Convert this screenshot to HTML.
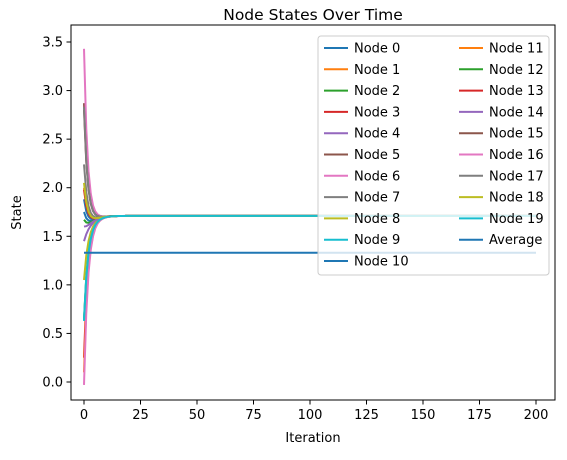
<!DOCTYPE html>
<html><head><meta charset="utf-8"><style>
body{margin:0;background:#fff;font-family:"Liberation Sans","DejaVu Sans",sans-serif}
svg text{font-family:"DejaVu Sans","Liberation Sans",sans-serif;fill:#000}
</style></head><body>
<svg id="c" width="567" height="455"></svg>
<script>
const nodeNames=["Node 0","Node 1","Node 2","Node 3","Node 4","Node 5","Node 6","Node 7","Node 8","Node 9","Node 10","Node 11","Node 12","Node 13","Node 14","Node 15","Node 16","Node 17","Node 18","Node 19"];
const initialStates=[1.88,2.0,0.65,0.25,1.45,2.87,3.43,2.24,1.05,0.63,1.75,0.1,1.67,1.98,1.6,2.8,-0.03,2.83,2.05,0.63];
const consensusValue=1.71;
const averageValue=1.33;
const iterations=200;
const xTicks=[0,25,50,75,100,125,150,175,200];
const yTicks=[0.0,0.5,1.0,1.5,2.0,2.5,3.0,3.5];
const colors=["#1f77b4","#ff7f0e","#2ca02c","#d62728","#9467bd","#8c564b","#e377c2","#7f7f7f","#bcbd22","#17becf"];
const NS="http://www.w3.org/2000/svg";
const svg=document.getElementById('c');
const L=71,R=555,T=25,B=400;
const X=v=>84+v*(452/200);
const Y=v=>382-v*(340/3.5);
function mk(t,a,p){const e=document.createElementNS(NS,t);for(const k in a)e.setAttribute(k,a[k]);(p||svg).appendChild(e);return e;}
function stateAt(x0,t){return consensusValue+(x0-consensusValue)*Math.pow(0.55,t)-0.07*t*Math.pow(0.65,t);}
const g=mk('g',{});


initialStates.forEach((x0,i)=>{
  let pts=[];for(let t=0;t<=iterations;t++)pts.push(X(t).toFixed(2)+','+Y(stateAt(x0,t)).toFixed(2));
  const p=mk('polyline',{points:pts.join(' '),fill:'none',stroke:colors[i%10],'stroke-width':2},g);
  
  
});
const av=mk('line',{x1:X(0),x2:X(iterations),y1:Y(averageValue),y2:Y(averageValue),stroke:colors[20%10],'stroke-width':2},g);


const fr=mk('rect',{x:L,y:T,width:R-L,height:B-T,fill:'none',stroke:'#000','stroke-width':1});


xTicks.forEach(v=>{mk('line',{x1:X(v),x2:X(v),y1:B,y2:B+4.5,stroke:'#000','stroke-width':1});
 const t=mk('text',{x:X(v),y:B+19,'font-size':13,'text-anchor':'middle'});t.textContent=v;
 
 });
yTicks.forEach(v=>{mk('line',{x1:L-4.5,x2:L,y1:Y(v),y2:Y(v),stroke:'#000','stroke-width':1});
 const t=mk('text',{x:L-8,y:Y(v)+4.5,'font-size':13,'text-anchor':'end'});t.textContent=v.toFixed(1);
 
 });
const ti=mk('text',{x:(L+R)/2,y:20,'font-size':15.5,'text-anchor':'middle'});ti.textContent='Node States Over Time';


const xl=mk('text',{x:(L+R)/2,y:442,'font-size':13,'text-anchor':'middle'});xl.textContent='Iteration';


const yl=mk('text',{x:21,y:(T+B)/2,'font-size':13,'text-anchor':'middle',transform:'rotate(-90 21 '+(T+B)/2+')'});yl.textContent='State';


const lg=mk('g',{});


mk('rect',{x:318,y:36,width:231,height:239,rx:3,fill:'#fff','fill-opacity':0.8,stroke:'#ccc','stroke-width':1},lg);
const labels=nodeNames.concat(['Average']);
labels.forEach((n,i)=>{
  const col=i<11?0:1,row=i<11?i:i-11;
  const x0=col?459:324,y=48+row*21.3;
  mk('line',{x1:x0,x2:x0+24,y1:y,y2:y,stroke:colors[i%10],'stroke-width':2},lg);
  const t=mk('text',{x:x0+30,y:y+4.5,'font-size':13},lg);t.textContent=n;
  
  
});
</script>
</body></html>
